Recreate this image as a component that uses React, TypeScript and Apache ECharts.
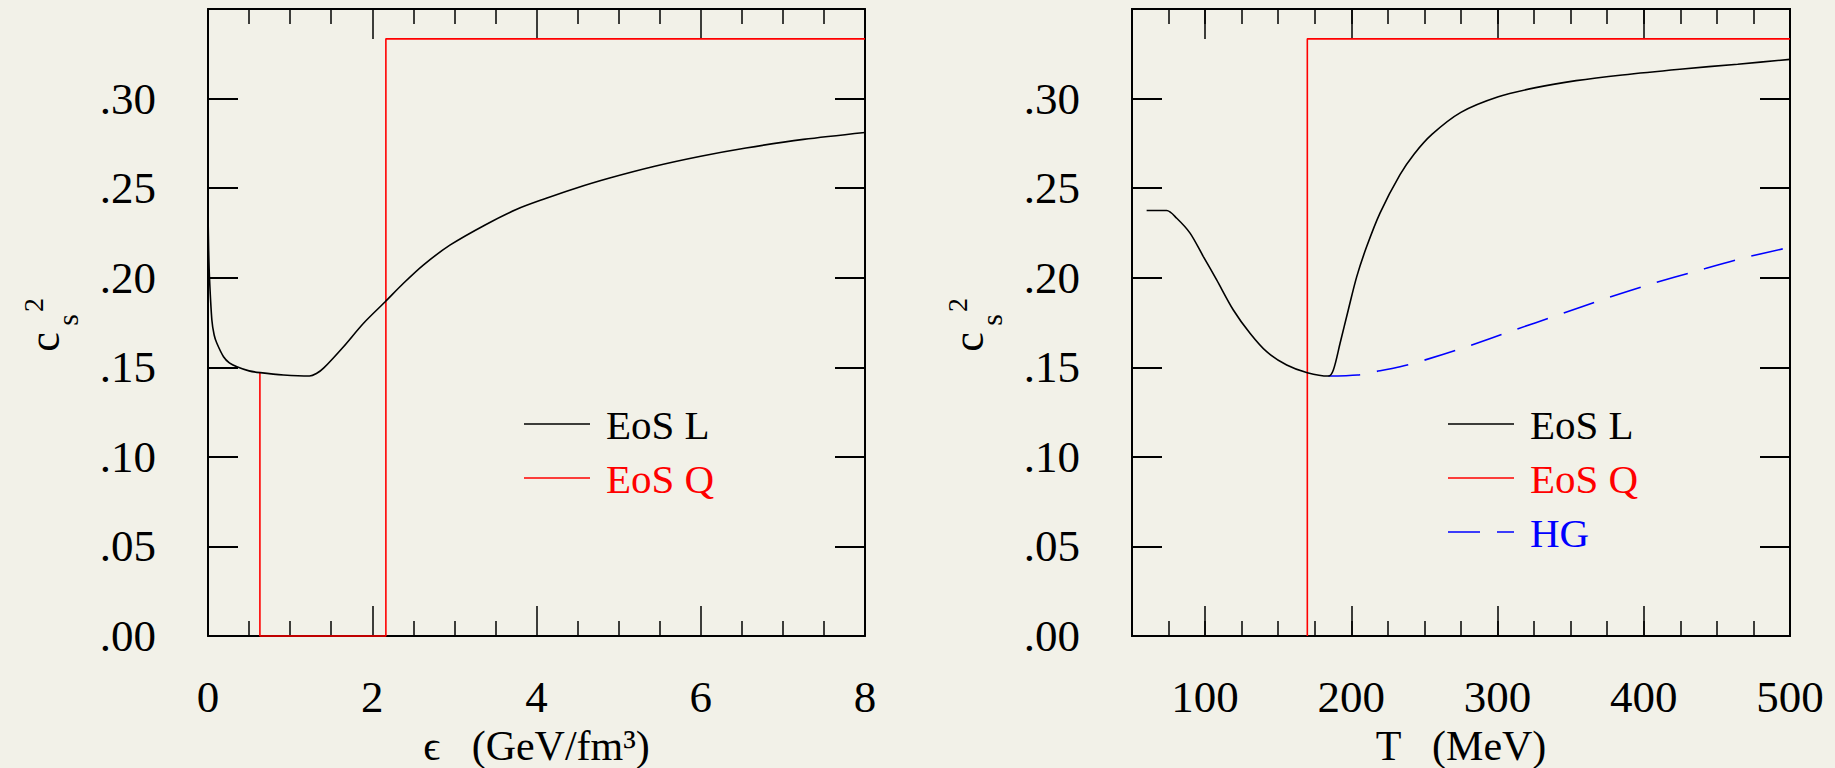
import React, { useEffect, useRef } from "react";
import * as echarts from "echarts";

// ---------- data ----------
// Left panel: c_s^2 versus energy density epsilon (GeV/fm^3)
const eosLvsEps: [number, number][] = [
  [0, 0.236], [0.008, 0.215], [0.018, 0.2], [0.047, 0.1764], [0.075, 0.168],
  [0.108, 0.1634], [0.189, 0.1559], [0.26, 0.1525], [0.352, 0.1503], [0.5, 0.148],
  [0.636, 0.147], [0.92, 0.1457], [1.236, 0.1451], [1.32, 0.1465], [1.407, 0.1495],
  [1.65, 0.1615], [1.894, 0.1746], [2.158, 0.1866], [2.38, 0.1969], [2.625, 0.2072],
  [2.95, 0.2183], [3.38, 0.2296], [3.76, 0.2382], [4.11, 0.2442], [4.46, 0.2497],
  [4.88, 0.2555], [5.44, 0.2622], [6.0, 0.2678], [6.55, 0.2724], [7.25, 0.2772],
  [8.0, 0.2811],
];
const eosQvsEps: [number, number][] = [
  [0.632, 0.147], [0.632, 0], [2.166, 0], [2.166, 1 / 3], [8, 1 / 3],
];
// Right panel: c_s^2 versus temperature T (MeV)
const eosLvsT: [number, number][] = [
  [60, 0.2375], [73.7, 0.2375], [80.6, 0.2332], [89.7, 0.2249], [98.8, 0.2118],
  [107.9, 0.1988], [119.3, 0.182], [130.7, 0.169], [142.1, 0.1587], [155.8, 0.1513],
  [169.9, 0.147], [184.3, 0.1451], [187.7, 0.1485], [192.3, 0.1634], [197.9, 0.182],
  [203.7, 0.2006], [210.5, 0.2174], [219.6, 0.2361], [233.3, 0.2575], [243, 0.2691],
  [255.1, 0.28], [274.9, 0.2923], [300.5, 0.301], [326.1, 0.3061], [353.7, 0.31],
  [385.3, 0.3132], [424.7, 0.3164], [464.2, 0.3192], [500, 0.3219],
];
const eosQvsT: [number, number][] = [
  [169.9, 0], [169.9, 1 / 3], [500, 1 / 3],
];
const hgvsT: [number, number][] = [
  [184.3, 0.1451], [204.3, 0.1457], [216.2, 0.1475], [233.3, 0.1503], [247.2, 0.1533],
  [278.8, 0.1615], [310.4, 0.1705], [341.9, 0.1793], [373.5, 0.1883], [405, 0.1965],
  [436.6, 0.2039], [468.1, 0.211], [500, 0.217],
];
const tLabelTicks = [100, 200, 300, 400, 500];
const leftLegend = ["EoS L", "EoS Q"];
const rightLegend = ["EoS L", "EoS Q", "HG"];
const seriesColors = ["#000000", "#ff0000", "#0000ff"];
const epsTitle = "\u03f5   (GeV/fm\u00b3)";
const tTitle = "T   (MeV)";

// ---------- style ----------
const FONT = "Liberation Serif";
const BG = "#f2f1e8";
const G1 = { left: 208, top: 9, width: 657, height: 627 };
const G2 = { left: 1132, top: 9, width: 658, height: 627 };

const fmtY = (v: number) =>
  v > 0.34 ? "" : "." + String(Math.round(v * 100)).padStart(2, "0");

function yAxisCfg(grid: number, pos: string, labels: boolean) {
  return {
    type: "value", gridIndex: grid, position: pos, min: 0, max: 0.35, interval: 0.05,
    axisLine: { show: true, onZero: false, lineStyle: { color: "#000", width: 2 } },
    axisTick: { show: true, inside: true, length: 30, lineStyle: { color: "#000", width: 2 } },
    axisLabel: { show: labels, margin: 52, fontFamily: FONT, fontSize: 45, color: "#000", formatter: fmtY },
    splitLine: { show: false },
  };
}

function epsAxis(pos: string, labels: boolean) {
  return {
    type: "value", gridIndex: 0, position: pos, min: 0, max: 8, interval: 2,
    axisLine: { show: true, onZero: false, lineStyle: { color: "#000", width: 2 } },
    axisTick: { show: true, inside: true, length: 30, lineStyle: { color: "#000", width: 1.5 } },
    minorTick: { show: true, splitNumber: 4, length: 15, lineStyle: { color: "#000", width: 1.5 } },
    axisLabel: { show: labels, margin: 38, fontFamily: FONT, fontSize: 45, color: "#000" },
    splitLine: { show: false }, minorSplitLine: { show: false },
    name: labels ? epsTitle : "", nameLocation: "middle", nameGap: 62,
    nameTextStyle: { fontFamily: FONT, fontSize: 42, color: "#000", lineHeight: 44 },
  };
}

function tMinorAxis(pos: string) {
  return {
    type: "value", gridIndex: 1, position: pos, min: 50, max: 500, interval: 25,
    axisLine: { show: true, onZero: false, lineStyle: { color: "#000", width: 2 } },
    axisTick: { show: true, inside: true, length: 15, lineStyle: { color: "#000", width: 1.5 } },
    axisLabel: { show: false }, splitLine: { show: false },
  };
}

function tMajorAxis(pos: string, labels: boolean) {
  return {
    type: "value", gridIndex: 1, position: pos, min: 50, max: 500, interval: 25,
    axisLine: { show: true, onZero: false, lineStyle: { color: "#000", width: 2 } },
    axisTick: { show: true, inside: true, length: 30, customValues: tLabelTicks, lineStyle: { color: "#000", width: 1.5 } },
    axisLabel: { show: labels, customValues: tLabelTicks, margin: 38, fontFamily: FONT, fontSize: 45, color: "#000" },
    splitLine: { show: false },
    name: labels ? tTitle : "", nameLocation: "middle", nameGap: 62,
    nameTextStyle: { fontFamily: FONT, fontSize: 42, color: "#000", lineHeight: 44 },
  };
}

function yName(cx: number, cy: number) {
  return {
    type: "group", x: cx, y: cy, rotation: Math.PI / 2,
    children: [
      { type: "text", x: 0, y: -4, style: { text: "c", fontFamily: FONT, fontSize: 44, fill: "#000", align: "center", verticalAlign: "middle" } },
      { type: "text", x: 22, y: 19, style: { text: "s", fontFamily: FONT, fontSize: 30, fill: "#000", align: "center", verticalAlign: "middle" } },
      { type: "text", x: 37, y: -15, style: { text: "2", fontFamily: FONT, fontSize: 28, fill: "#000", align: "center", verticalAlign: "middle" } },
    ],
  };
}

function legend(grid: { left: number }, names: string[]) {
  const els: any[] = [];
  names.forEach((n, i) => {
    const y = 424 + i * 54;
    const x0 = grid.left + 316;
    els.push({
      type: "line", shape: { x1: x0, y1: y, x2: x0 + 66, y2: y },
      style: { stroke: seriesColors[i], lineWidth: 1.5, lineDash: i === 2 ? [32, 17] : null },
    });
    els.push({
      type: "text", x: x0 + 82, y: y + 1,
      style: { text: n, fontFamily: FONT, fontSize: 41, fill: seriesColors[i], align: "left", verticalAlign: "middle" },
    });
  });
  return els;
}

function lineSeries(name: string, data: [number, number][], xi: number, yi: number, color: string, smooth: number, dash?: number[]) {
  return {
    type: "line", name, data, xAxisIndex: xi, yAxisIndex: yi, showSymbol: false, symbol: "none",
    smooth, clip: false, silent: true,
    lineStyle: { color, width: 1.6, type: dash ? dash : "solid" },
  };
}

export default function App() {
  const ref = useRef<HTMLDivElement>(null);
  useEffect(() => {
    if (!ref.current) return;
    const chart = echarts.init(ref.current, null, { renderer: "svg" });
    chart.setOption({
      animation: false,
      backgroundColor: BG,
      grid: [
        { ...G1, containLabel: false, outerBoundsMode: "none" },
        { ...G2, containLabel: false, outerBoundsMode: "none" },
      ],
      xAxis: [
        epsAxis("bottom", true), // 0
        epsAxis("top", false), // 1
        tMajorAxis("bottom", true), // 2
        tMinorAxis("bottom"), // 3
        tMajorAxis("top", false), // 4
        tMinorAxis("top"), // 5
      ],
      yAxis: [
        yAxisCfg(0, "left", true),
        yAxisCfg(0, "right", false),
        yAxisCfg(1, "left", true),
        yAxisCfg(1, "right", false),
      ],
      series: [
        lineSeries(leftLegend[1], eosQvsEps, 0, 0, seriesColors[1], 0),
        lineSeries(leftLegend[0], eosLvsEps, 0, 0, seriesColors[0], 0.3),
        lineSeries(rightLegend[1], eosQvsT, 2, 2, seriesColors[1], 0),
        lineSeries(rightLegend[2], hgvsT, 2, 2, seriesColors[2], 0.3, [32, 17]),
        lineSeries(rightLegend[0], eosLvsT, 2, 2, seriesColors[0], 0.3),
      ],
      graphic: [
        yName(48, 342),
        yName(48 + (G2.left - G1.left), 342),
        ...legend(G1, leftLegend),
        ...legend(G2, rightLegend),
      ],
    });
    return () => chart.dispose();
  }, []);
  return (
    <div
      ref={ref}
      style={{ position: "fixed", left: 0, top: 0, width: 1835, height: 768, background: BG }}
    />
  );
}
